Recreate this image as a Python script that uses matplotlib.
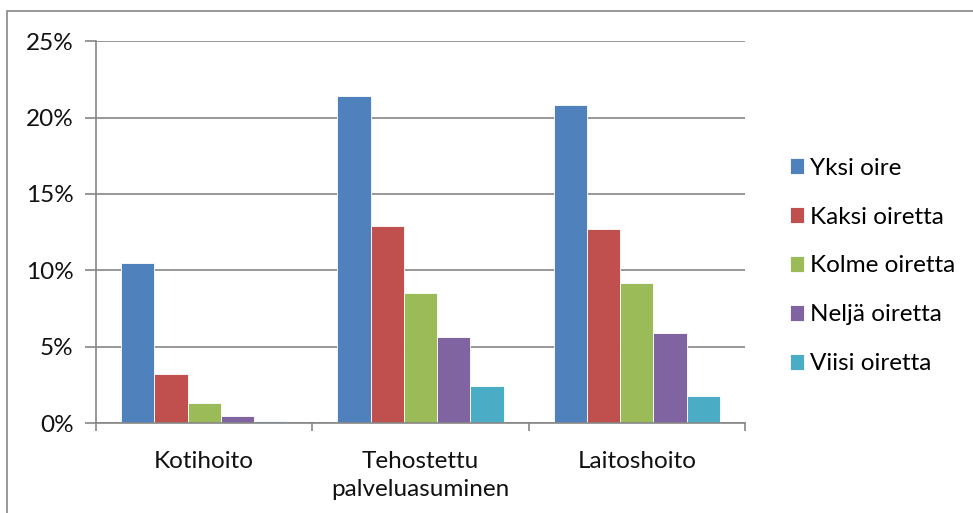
import numpy as np
import matplotlib.pyplot as plt
from matplotlib.patches import Rectangle
from matplotlib.ticker import FuncFormatter

plt.rcParams['font.family'] = ['Lato', 'DejaVu Sans']

categories = ['Kotihoito', 'Tehostettu\npalveluasuminen', 'Laitoshoito']
series_names = ['Yksi oire', 'Kaksi oiretta', 'Kolme oiretta', 'Neljä oiretta', 'Viisi oiretta']
yksi = [10.5, 21.4, 20.8]
kaksi = [3.2, 12.9, 12.7]
kolme = [1.3, 8.5, 9.2]
nelja = [0.45, 5.6, 5.9]
viisi = [0.1, 2.45, 1.8]
colors = ['#4f81bd', '#c0504d', '#9bbb59', '#8064a2', '#4bacc6']

series = [yksi, kaksi, kolme, nelja, viisi]
FS = 17.5

fig = plt.figure(figsize=(9.73, 5.13), dpi=100)
W, H = 973, 513

# chart area frame (runs off the right and bottom edges)
fig.patches.append(Rectangle((7 / W, -0.1), 1.2, 1 - 11.5 / H + 0.1,
                             transform=fig.transFigure, fill=False,
                             edgecolor='#868686', linewidth=1.2))

ax = fig.add_axes([96 / W, 1 - 423 / H, (745 - 96) / W, (423 - 41.3) / H])

n = len(series)
width = 1 / (n + 1.5)
x = np.arange(len(categories))
for i, (vals, name, c) in enumerate(zip(series, series_names, colors)):
    offs = (i - (n - 1) / 2) * width
    ax.bar(x + offs, vals, width, color=c, label=name,
           edgecolor='white', linewidth=0.6)

ax.set_xlim(-0.5, len(categories) - 0.5)
ax.set_ylim(0, 25)
ax.set_yticks(np.arange(0, 26, 5))
ax.yaxis.set_major_formatter(FuncFormatter(lambda v, p: f'{v:.0f}%'))
ax.grid(axis='y', color='#868686', linewidth=1.2)
ax.set_axisbelow(True)

ax.set_xticks(x)
ax.set_xticklabels(categories, fontsize=FS, color='#111111', linespacing=1.4)
ax.set_xticks(np.arange(-0.5, len(categories)), minor=True)
ax.tick_params(axis='x', which='major', length=0, pad=20)
ax.tick_params(axis='x', which='minor', length=6, width=1.2, color='#868686')
ax.tick_params(axis='y', length=8, width=1.2, color='#868686',
               labelsize=FS, labelcolor='#111111', pad=8)

for s in ['top', 'right']:
    ax.spines[s].set_visible(False)
for s in ['left', 'bottom']:
    ax.spines[s].set_color('#868686')
    ax.spines[s].set_linewidth(1.2)

ax.legend(loc='center left', bbox_to_anchor=(780 / W, 1 - 266 / H),
          bbox_transform=fig.transFigure, frameon=False, fontsize=FS,
          handlelength=0.6, handleheight=0.6, handletextpad=0.25,
          labelspacing=1.15, borderaxespad=0)

fig.savefig('out.png', dpi=100)
